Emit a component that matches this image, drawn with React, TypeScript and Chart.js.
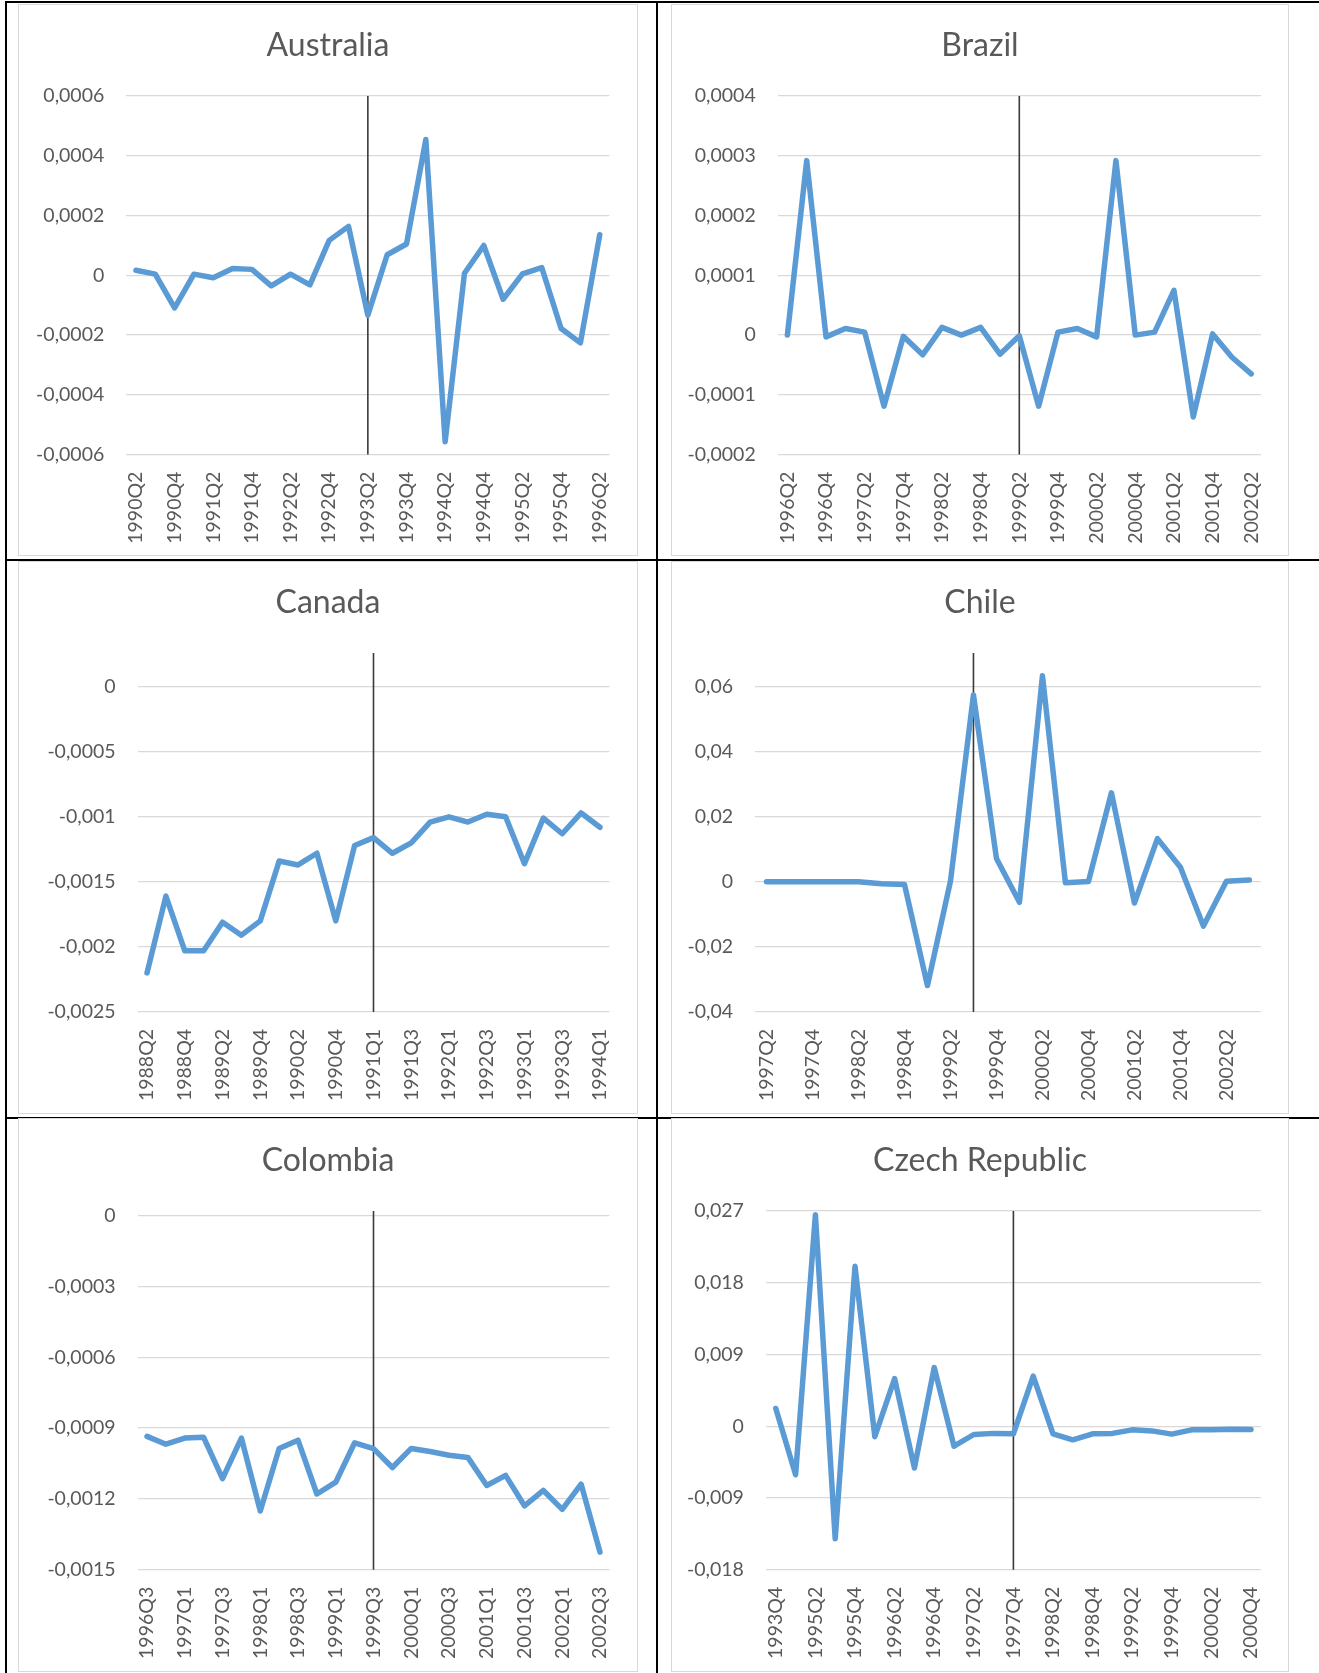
import React, { useEffect, useRef } from 'react';
import { Chart, registerables } from 'chart.js';

Chart.register(...registerables);

// ---------------- DATA ----------------
const australiaLabels = ['1990Q2','1990Q3','1990Q4','1991Q1','1991Q2','1991Q3','1991Q4','1992Q1','1992Q2','1992Q3','1992Q4','1993Q1','1993Q2','1993Q3','1993Q4','1994Q1','1994Q2','1994Q3','1994Q4','1995Q1','1995Q2','1995Q3','1995Q4','1996Q1','1996Q2'];
const australiaValues = [0.000017,0.000004,-0.000109,0.000004,-0.000008,0.000023,0.00002,-0.000035,0.000004,-0.000032,0.000117,0.000164,-0.000133,0.000069,0.000105,0.000455,-0.000557,0.000007,0.0001,-0.00008,0.000005,0.000026,-0.000178,-0.000226,0.000136];
const australiaTicks = [-0.0006,-0.0004,-0.0002,0,0.0002,0.0004,0.0006];
const australiaBreak = '1993Q2';

const brazilLabels = ['1996Q2','1996Q3','1996Q4','1997Q1','1997Q2','1997Q3','1997Q4','1998Q1','1998Q2','1998Q3','1998Q4','1999Q1','1999Q2','1999Q3','1999Q4','2000Q1','2000Q2','2000Q3','2000Q4','2001Q1','2001Q2','2001Q3','2001Q4','2002Q1','2002Q2'];
const brazilValues = [0,0.000292,-0.000003,0.000011,0.000005,-0.000119,-0.000002,-0.000033,0.000013,0,0.000013,-0.000032,-0.000001,-0.000119,0.000005,0.000011,-0.000003,0.000292,0,0.000005,0.000075,-0.000137,0.000002,-0.000037,-0.000065];
const brazilTicks = [-0.0002,-0.0001,0,0.0001,0.0002,0.0003,0.0004];
const brazilBreak = '1999Q2';

const canadaLabels = ['1988Q2','1988Q3','1988Q4','1989Q1','1989Q2','1989Q3','1989Q4','1990Q1','1990Q2','1990Q3','1990Q4','','1991Q1','1991Q2','1991Q3','1991Q4','1992Q1','1992Q2','1992Q3','1992Q4','1993Q1','1993Q2','1993Q3','1993Q4','1994Q1'];
const canadaValues = [-0.0022,-0.00161,-0.00203,-0.00203,-0.00181,-0.00191,-0.0018,-0.00134,-0.00137,-0.00128,-0.0018,-0.00122,-0.00116,-0.00128,-0.0012,-0.00104,-0.001,-0.00104,-0.00098,-0.001,-0.00136,-0.00101,-0.00113,-0.00097,-0.00108];
const canadaTicks = [-0.0025,-0.002,-0.0015,-0.001,-0.0005,0];
const canadaBreak = '1991Q1';

const chileLabels = ['1997Q2','1997Q3','1997Q4','1998Q1','1998Q2','1998Q3','1998Q4','1999Q1','1999Q2','1999Q3','1999Q4','2000Q1','2000Q2','2000Q3','2000Q4','2001Q1','2001Q2','2001Q3','2001Q4','2002Q1','2002Q2','2002Q3'];
const chileValues = [0,0,0,0,0,-0.0006,-0.0008,-0.0319,0.0002,0.0575,0.0072,-0.0063,0.0634,-0.0003,0.0001,0.0274,-0.0065,0.0133,0.0045,-0.0136,0.0002,0.0006];
const chileTicks = [-0.04,-0.02,0,0.02,0.04,0.06];
const chileBreak = '1999Q3';

const colombiaLabels = ['1996Q3','1996Q4','1997Q1','1997Q2','1997Q3','1997Q4','1998Q1','1998Q2','1998Q3','1998Q4','1999Q1','1999Q2','1999Q3','1999Q4','2000Q1','2000Q2','2000Q3','2000Q4','2001Q1','2001Q2','2001Q3','2001Q4','2002Q1','2002Q2','2002Q3'];
const colombiaValues = [-0.000935,-0.000968,-0.000942,-0.000939,-0.001114,-0.000942,-0.001251,-0.000986,-0.000951,-0.001179,-0.001129,-0.000962,-0.000987,-0.001067,-0.000986,-0.000999,-0.001015,-0.001024,-0.001143,-0.0011,-0.001229,-0.001164,-0.001244,-0.001137,-0.001425];
const colombiaTicks = [-0.0015,-0.0012,-0.0009,-0.0006,-0.0003,0];
const colombiaBreak = '1999Q3';

const czechLabels = ['1993Q4','1995Q1','1995Q2','1995Q3','1995Q4','1996Q1','1996Q2','1996Q3','1996Q4','1997Q1','1997Q2','1997Q3','1997Q4','1998Q1','1998Q2','1998Q3','1998Q4','1999Q1','1999Q2','1999Q3','1999Q4','2000Q1','2000Q2','2000Q3','2000Q4'];
const czechValues = [0.00223,-0.00608,0.02654,-0.01412,0.02006,-0.0013,0.00599,-0.00523,0.00737,-0.0025,-0.00103,-0.00089,-0.00094,0.0063,-0.00094,-0.0017,-0.00094,-0.00089,-0.00045,-0.00058,-0.00098,-0.00045,-0.00045,-0.00036,-0.0004];
const czechTicks = [-0.018,-0.009,0,0.009,0.018,0.027];
const czechBreak = '1997Q4';

// ---------------- STYLE ----------------
const FONT = 'Lato, "Open Sans", sans-serif';
const TEXT = '#595959';
const GRID = '#D9D9D9';
const LINE = '#5B9BD5';
const TABLE = '#000000';
const TITLE_SIZE = 32;
const TICK_SIZE = 19.5;

function fmt(v: number): string {
  return String(parseFloat(v.toFixed(6))).replace('.', ',');
}

type Spec = {
  title: string;
  labels: string[];
  values: number[];
  breakLabel: string;
  ticks: number[];
  yMin: number;
  yMax: number;
  left: number;
  top: number;
  width: number;
  height: number;
  plotLeft: number;
  plotRight: number;
  plotTop: number;
  plotBottom: number;
  titleTop: number;
};

const breakLinePlugin = {
  id: 'breakLine',
  beforeDatasetsDraw(chart: any, _args: any, opts: any) {
    const xs = chart.scales.x;
    const idx = chart.data.labels.indexOf(opts.label);
    if (idx < 0) return;
    const x = xs.getPixelForValue(idx);
    const { ctx, chartArea } = chart;
    ctx.save();
    ctx.strokeStyle = '#3A3A3A';
    ctx.lineWidth = 1.6;
    ctx.beginPath();
    ctx.moveTo(x, chartArea.top);
    ctx.lineTo(x, chartArea.bottom);
    ctx.stroke();
    ctx.restore();
  },
};

function Panel({ spec }: { spec: Spec }) {
  const ref = useRef<HTMLCanvasElement>(null);
  const cw = spec.width - 2;
  const ch = spec.height - 2;
  useEffect(() => {
    const labels = spec.labels;
    const titleLine = TITLE_SIZE * 1.2;
    const chart = new Chart(ref.current as HTMLCanvasElement, {
      type: 'line',
      data: {
        labels,
        datasets: [
          {
            data: spec.values,
            borderColor: LINE,
            backgroundColor: LINE,
            borderWidth: 5.5,
            pointRadius: 0,
            pointHoverRadius: 0,
            tension: 0,
            fill: false,
            borderJoinStyle: 'round',
            borderCapStyle: 'round',
          },
        ],
      },
      options: {
        animation: false,
        responsive: false,
        maintainAspectRatio: false,
        devicePixelRatio: 1,
        events: [],
        layout: { padding: 0 },
        plugins: {
          legend: { display: false },
          tooltip: { enabled: false },
          title: {
            display: true,
            text: spec.title,
            color: TEXT,
            font: { family: FONT, size: TITLE_SIZE, weight: 'normal', lineHeight: 1.2 },
            padding: { top: spec.titleTop, bottom: spec.plotTop - spec.titleTop - titleLine },
          },
          // @ts-ignore
          breakLine: { label: spec.breakLabel },
        },
        scales: {
          x: {
            type: 'category',
            offset: true,
            grid: { display: false, drawTicks: false },
            border: { display: false },
            ticks: {
              autoSkip: false,
              maxRotation: 90,
              minRotation: 90,
              padding: 17,
              color: TEXT,
              font: { family: FONT, size: TICK_SIZE },
              callback: (_v: any, i: number) => (i % 2 === 0 ? labels[i] : ''),
            },
            afterFit: (s: any) => {
              s.height = ch - spec.plotBottom;
              s.paddingLeft = 0;
              s.paddingRight = 0;
            },
          },
          y: {
            type: 'linear',
            position: 'left',
            min: spec.yMin,
            max: spec.yMax,
            grid: { color: GRID, lineWidth: 1.3, drawTicks: false },
            border: { display: false },
            ticks: {
              padding: 22,
              color: TEXT,
              font: { family: FONT, size: TICK_SIZE },
              callback: (v: any) => fmt(Number(v)),
            },
            afterBuildTicks: (s: any) => {
              s.ticks = spec.ticks.map((v) => ({ value: v }));
            },
            afterFit: (s: any) => {
              s.width = spec.plotLeft;
              s.paddingTop = 0;
              s.paddingBottom = 0;
            },
          },
          // empty right-hand margin, so the title stays centred on the whole chart
          yRight: {
            type: 'linear',
            position: 'right',
            grid: { display: false, drawTicks: false },
            border: { display: false },
            ticks: { display: false },
            afterFit: (s: any) => {
              s.width = cw - spec.plotRight;
              s.paddingTop = 0;
              s.paddingBottom = 0;
            },
          },
        },
      } as any,
      plugins: [breakLinePlugin],
    });
    return () => chart.destroy();
  }, []);
  return (
    <div
      style={{
        position: 'absolute',
        left: spec.left,
        top: spec.top,
        width: spec.width,
        height: spec.height,
        boxSizing: 'border-box',
        border: `1px solid ${GRID}`,
        background: '#ffffff',
      }}
    >
      <canvas ref={ref} width={cw} height={ch} style={{ display: 'block', width: cw, height: ch }} />
    </div>
  );
}

const ROW1 = { top: 4, height: 552, plotTop: 91.1, plotBottom: 449.6, titleTop: 21 };
const ROW2 = { top: 561, height: 553, plotTop: 91, plotBottom: 449.9, titleTop: 21.5 };
const ROW3 = { top: 1118, height: 554, plotTop: 92, plotBottom: 450.8, titleTop: 22.5 };
const COL1 = { left: 18, width: 620, plotRight: 590.4 };
const COL2 = { left: 671, width: 618, plotRight: 588.9 };

const specs: Spec[] = [
  { title: 'Australia', labels: australiaLabels, values: australiaValues, breakLabel: australiaBreak, ticks: australiaTicks, yMin: -0.0006, yMax: 0.0006, ...COL1, ...ROW1, plotLeft: 107.3 },
  { title: 'Brazil', labels: brazilLabels, values: brazilValues, breakLabel: brazilBreak, ticks: brazilTicks, yMin: -0.0002, yMax: 0.0004, ...COL2, ...ROW1, plotLeft: 105.7 },
  { title: 'Canada', labels: canadaLabels, values: canadaValues, breakLabel: canadaBreak, ticks: canadaTicks, yMin: -0.0025, yMax: 0.00026, ...COL1, ...ROW2, plotLeft: 118.6 },
  { title: 'Chile', labels: chileLabels, values: chileValues, breakLabel: chileBreak, ticks: chileTicks, yMin: -0.04, yMax: 0.0704, ...COL2, ...ROW2, plotLeft: 83 },
  { title: 'Colombia', labels: colombiaLabels, values: colombiaValues, breakLabel: colombiaBreak, ticks: colombiaTicks, yMin: -0.0015, yMax: 0.0000195, ...COL1, ...ROW3, plotLeft: 118.6 },
  { title: 'Czech Republic', labels: czechLabels, values: czechValues, breakLabel: czechBreak, ticks: czechTicks, yMin: -0.018, yMax: 0.027, ...COL2, ...ROW3, plotLeft: 93.9 },
];

export default function App() {
  const line = (left: number, top: number, width: number, height: number) => (
    <div style={{ position: 'absolute', left, top, width, height, background: TABLE }} />
  );
  return (
    <div style={{ position: 'absolute', left: 0, top: 0, width: 1319, height: 1673, background: '#ffffff', overflow: 'hidden' }}>
      {line(5, 1, 1314, 2)}
      {line(5, 1, 2, 1672)}
      {line(656, 1, 2, 1672)}
      {line(5, 559, 1314, 2)}
      {line(5, 1117, 1314, 2)}
      {specs.map((s) => (
        <Panel key={s.title} spec={s} />
      ))}
    </div>
  );
}
